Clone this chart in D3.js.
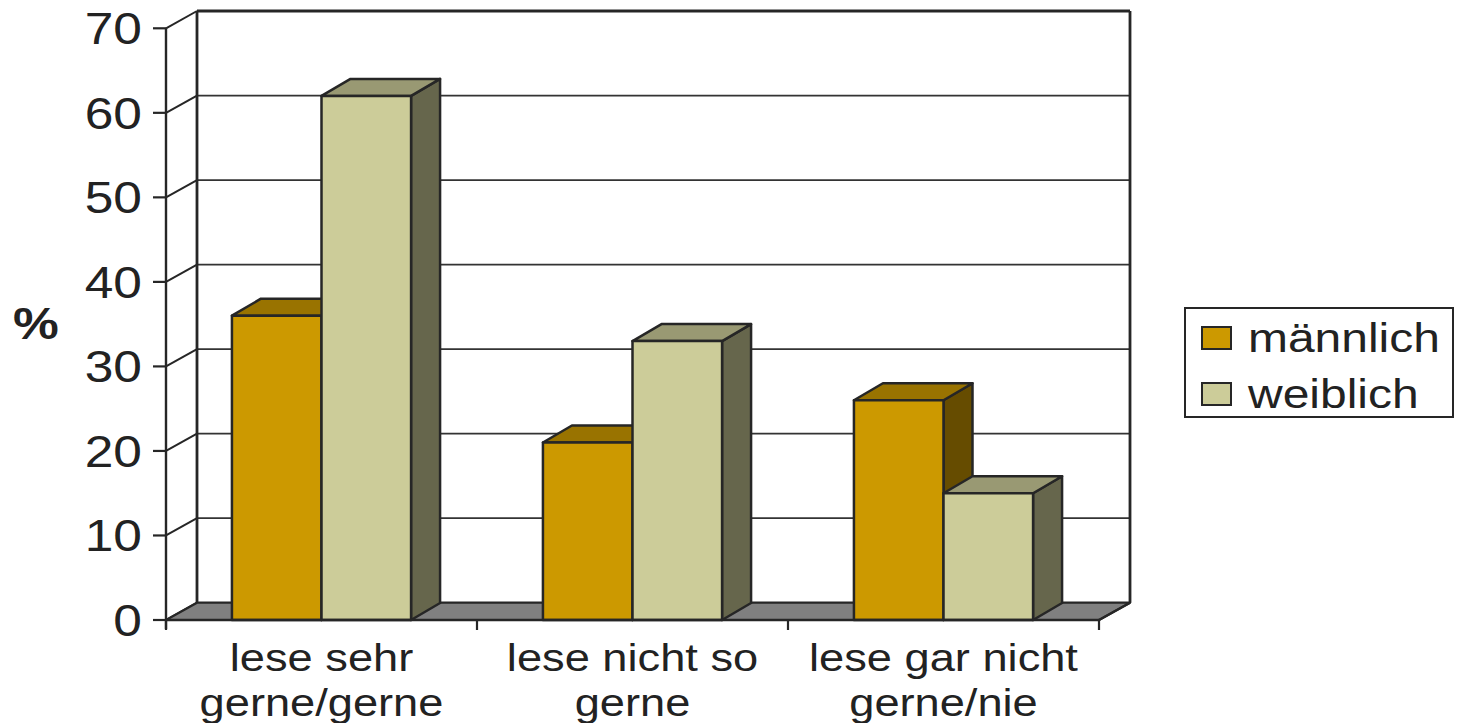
<!DOCTYPE html>
<html>
<head>
<meta charset="utf-8">
<script src="https://cdn.jsdelivr.net/npm/d3@7"></script>
<style>
  html, body { margin: 0; padding: 0; background: #fff; }
  svg { display: block; }
  text { font-family: "Liberation Sans", Arial, sans-serif; fill: #222; }
</style>
</head>
<body>
<svg id="chart" width="1459" height="723"></svg>
<script>
// Reading preference by gender (percent)
const categories = [["lese sehr", "gerne/gerne"], ["lese nicht so", "gerne"], ["lese gar nicht", "gerne/nie"]];
const seriesNames = ["männlich", "weiblich"];
const maennlich = [36, 21, 26];
const weiblich = [62, 33, 15];
const yTicks = [0, 10, 20, 30, 40, 50, 60, 70];

const palette = {
  "männlich": { front: "#cc9900", top: "#997300", side: "#664c00" },
  "weiblich": { front: "#cccc99", top: "#999973", side: "#66664c" }
};

const svg = d3.select("#chart");
const stroke = "#262626";
const stretch = 1.17; // horizontal stretch of the lettering

// Front plane of the plot and depth offset of the walls
const x0 = 166, x1 = 1099;
const depth = { dx: 31, dy: -17.3 };
const barDepth = { dx: 29, dy: -17 };

const y = d3.scaleLinear().domain([0, 70]).range([620, 28.3]);
const xCat = d3.scaleBand().domain(d3.range(categories.length)).range([x0, x1])
  .paddingInner(0.424).paddingOuter(0.212);
const xSer = d3.scaleBand().domain(seriesNames).range([0, xCat.bandwidth()]);

const rows = categories.map((c, i) => ({
  i, label: c,
  values: [
    { name: "männlich", v: maennlich[i] },
    { name: "weiblich", v: weiblich[i] }
  ]
}));

// Back wall gridlines and side-wall diagonals
const grid = svg.append("g");
yTicks.forEach(t => {
  const yf = y(t), yb = y(t) + depth.dy;
  if (t > 0) {
    grid.append("line").attr("x1", x0 + depth.dx).attr("x2", x1 + depth.dx)
      .attr("y1", yb).attr("y2", yb)
      .attr("stroke", t === 70 ? stroke : "#333").attr("stroke-width", t === 70 ? 2.8 : 1.8);
  }
  grid.append("line").attr("x1", x0).attr("y1", yf).attr("x2", x0 + depth.dx).attr("y2", yb)
    .attr("stroke", stroke).attr("stroke-width", 2);
});
// wall edges
grid.append("line").attr("x1", x0 + depth.dx).attr("x2", x0 + depth.dx)
  .attr("y1", y(70) + depth.dy).attr("y2", y(0) + depth.dy)
  .attr("stroke", stroke).attr("stroke-width", 2.8);
grid.append("line").attr("x1", x1 + depth.dx).attr("x2", x1 + depth.dx)
  .attr("y1", y(70) + depth.dy).attr("y2", y(0) + depth.dy)
  .attr("stroke", stroke).attr("stroke-width", 2.8);

// Floor
svg.append("polygon")
  .attr("points", [[x0, y(0)], [x1, y(0)], [x1 + depth.dx, y(0) + depth.dy], [x0 + depth.dx, y(0) + depth.dy]].join(" "))
  .attr("fill", "#808080").attr("stroke", stroke).attr("stroke-width", 2.2).attr("stroke-linejoin", "round");

// 3D columns
const bars = svg.append("g");
rows.forEach(r => {
  r.values.forEach(d => {
    const xl = xCat(r.i) + xSer(d.name);
    const xr = xl + xSer.bandwidth();
    const yt = y(d.v), yb = y(0);
    const c = palette[d.name];
    const g = bars.append("g").attr("stroke", stroke).attr("stroke-width", 2.5).attr("stroke-linejoin", "round");
    g.append("polygon")
      .attr("points", [[xr, yt], [xr + barDepth.dx, yt + barDepth.dy], [xr + barDepth.dx, yb + barDepth.dy], [xr, yb]].join(" "))
      .attr("fill", c.side);
    g.append("polygon")
      .attr("points", [[xl, yt], [xr, yt], [xr + barDepth.dx, yt + barDepth.dy], [xl + barDepth.dx, yt + barDepth.dy]].join(" "))
      .attr("fill", c.top);
    g.append("rect").attr("x", xl).attr("y", yt).attr("width", xr - xl).attr("height", yb - yt)
      .attr("fill", c.front);
  });
});

// Front value axis
const yAxis = svg.append("g");
yAxis.append("line").attr("x1", x0).attr("x2", x0).attr("y1", y(70)).attr("y2", y(0) + 9)
  .attr("stroke", stroke).attr("stroke-width", 2.4);
yTicks.forEach(t => {
  yAxis.append("line").attr("x1", x0 - 13).attr("x2", x0).attr("y1", y(t)).attr("y2", y(t))
    .attr("stroke", stroke).attr("stroke-width", 2.2);
  yAxis.append("text")
    .attr("transform", `translate(142,${y(t) + 16}) scale(${stretch},1)`)
    .attr("text-anchor", "end").attr("font-size", 44).text(t);
});
svg.append("text")
  .attr("transform", `translate(13,339) scale(${stretch},1)`)
  .attr("font-size", 44).attr("font-weight", "bold").text("%");

// Category axis
const xAxis = svg.append("g");
xAxis.append("line").attr("x1", x0).attr("x2", x1).attr("y1", y(0)).attr("y2", y(0))
  .attr("stroke", stroke).attr("stroke-width", 2.4);
xAxis.append("line").attr("x1", x1).attr("y1", y(0)).attr("x2", x1 + depth.dx).attr("y2", y(0) + depth.dy)
  .attr("stroke", stroke).attr("stroke-width", 2.2);
d3.range(categories.length + 1).forEach(k => {
  const xt = x0 + k * xCat.step();
  xAxis.append("line").attr("x1", xt).attr("x2", xt).attr("y1", y(0)).attr("y2", y(0) + 10)
    .attr("stroke", stroke).attr("stroke-width", 2.2);
});
rows.forEach(r => {
  const cx = xCat(r.i) + xCat.bandwidth() / 2;
  r.label.forEach((line, j) => {
    xAxis.append("text")
      .attr("transform", `translate(${cx},${671 + j * 45}) scale(1.19,1)`)
      .attr("text-anchor", "middle").attr("font-size", 38).text(line);
  });
});

// Legend
const legend = svg.append("g");
legend.append("rect").attr("x", 1185).attr("y", 308).attr("width", 268).attr("height", 109)
  .attr("fill", "#fff").attr("stroke", stroke).attr("stroke-width", 2);
seriesNames.forEach((name, k) => {
  const ly = 327 + k * 56;
  legend.append("rect").attr("x", 1202).attr("y", ly).attr("width", 29).attr("height", 22)
    .attr("fill", palette[name].front).attr("stroke", stroke).attr("stroke-width", 2);
  legend.append("text")
    .attr("transform", `translate(1248,${ly + 25}) scale(${stretch},1)`)
    .attr("font-size", 41).text(name);
});
</script>
</body>
</html>
